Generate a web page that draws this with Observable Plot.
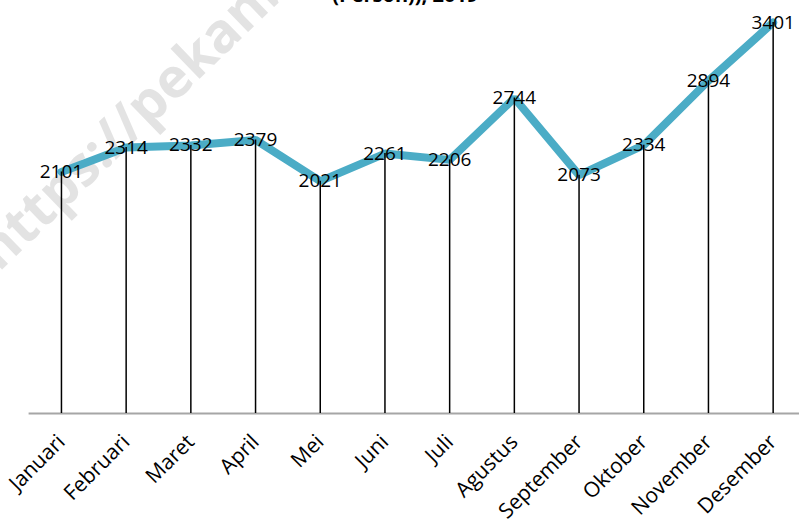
<!DOCTYPE html>
<html>
<head>
<meta charset="utf-8">
<script src="https://cdn.jsdelivr.net/npm/d3@7"></script>
<script src="https://cdn.jsdelivr.net/npm/@observablehq/plot@0.6"></script>
<style>
  html, body { margin: 0; padding: 0; background: white; }
</style>
</head>
<body>
<div id="chart"></div>
<script>
const months = ["Januari","Februari","Maret","April","Mei","Juni","Juli","Agustus","September","Oktober","November","Desember"];
const values = [2101, 2314, 2332, 2379, 2021, 2261, 2206, 2744, 2073, 2334, 2894, 3401];
const titleText = "(Person)), 2019";
const watermark = "https://pekanbarukota.bps.go.id";

const data = months.map((m, i) => ({month: m, value: values[i]}));

const chart = Plot.plot({
  width: 799,
  height: 523,
  marginLeft: 28.6,
  marginRight: -6,
  marginTop: 22,
  marginBottom: 110,
  style: {fontFamily: "'Open Sans', sans-serif", background: "white", overflow: "hidden"},
  x: {type: "point", domain: months, padding: 0.5, round: false, label: null},
  y: {domain: [0, 3401], axis: null},
  marks: [
    Plot.text([watermark], {
      frameAnchor: "top-left", dx: -30, dy: 250, rotate: -44,
      textAnchor: "start", lineAnchor: "bottom",
      fontSize: 55, fontWeight: "bold", fill: "#e3e3e3"
    }),
    Plot.text([titleText], {
      frameAnchor: "top", dx: -12, dy: -21, lineAnchor: "bottom",
      fontSize: 20, fontWeight: "bold", fill: "black"
    }),
    Plot.ruleY([0], {stroke: "#a6a6a6", strokeWidth: 2}),
    Plot.line(data, {x: "month", y: "value", stroke: "#4bacc6", strokeWidth: 8, strokeLinejoin: "miter"}),
    Plot.ruleX(data, {x: "month", y1: 0, y2: "value", stroke: "black", strokeWidth: 1.5}),
    Plot.text(data, {x: "month", y: "value", text: d => String(d.value), fontSize: 19, lineAnchor: "middle", fill: "black"}),
    Plot.axisX({tickSize: 0, tickPadding: 25, tickRotate: -45, fontSize: 21, label: null, fill: "black"})
  ]
});
document.getElementById("chart").appendChild(chart);
</script>
</body>
</html>
